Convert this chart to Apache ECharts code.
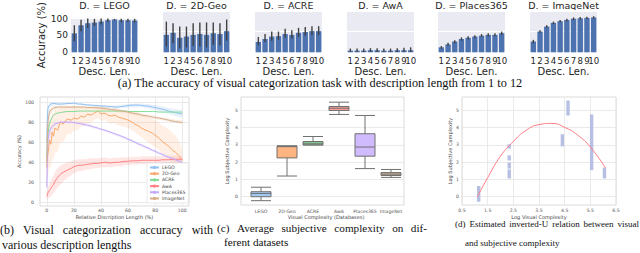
<!DOCTYPE html>
<html><head><meta charset="utf-8">
<script src="https://cdn.jsdelivr.net/npm/echarts@6/dist/echarts.min.js"></script>
<style>html,body{margin:0;padding:0;background:#fff}#c{width:640px;height:253px}</style>
</head><body><div id="c"></div>
<script>
// ---------- (a) bar panels ----------
const barCats = ['1','2','3','4','5','6','7','8','9','10'];
const panelTitles = ['D. = LEGO','D. = 2D-Geo','D. = ACRE','D. = AwA','D. = Places365','D. = ImageNet'];
const accLEGO = [56, 80, 86, 88, 91, 95, 97, 95, 95, 94];
const ciLEGO = [[33,80],[62,96],[72,100],[78,99],[82,100],[90,100],[95,99],[89,99],[90,99],[88,99]];
const acc2DGeo = [42, 47, 35, 38, 42, 44, 42, 46, 44, 51];
const ci2DGeo = [[14,74],[22,70],[10,62],[12,62],[15,70],[14,72],[12,72],[18,72],[17,70],[28,79]];
const accACRE = [25, 32, 38, 39, 44, 42, 47, 49, 51, 51];
const ciACRE = [[17,37],[25,44],[28,50],[30,50],[35,57],[33,53],[37,59],[40,61],[42,63],[42,63]];
const accAwA = [4, 4, 4, 5, 5, 4, 4, 5, 5, 5];
const ciAwA = [[1,9],[1,9],[1,9],[1,10],[1,10],[1,9],[1,9],[1,10],[1,11],[1,12]];
const accPlaces = [12, 19, 26, 32, 35, 38, 40, 42, 42, 46];
const ciPlaces = [[9,15],[16,23],[22,29],[28,36],[31,39],[34,41],[37,44],[38,46],[39,46],[42,50]];
const accImageNet = [26, 50, 62, 71, 75, 78, 81, 82, 83, 84];
const ciImageNet = [[22,30],[47,53],[59,65],[68,74],[72,78],[75,81],[78,84],[79,85],[80,86],[81,87]];
const barTicks = [0, 50, 100];

// ---------- (b) accuracy vs relative description length ----------
const datasetNames = ['LEGO','2D-Geo','ACRE','AwA','Places365','ImageNet'];
const relLen = [0,0.5,1,2,3,4,5,6,8,10,12,15,18,20,23,25,28,30,33,35,38,40,43,45,48,50,53,55,58,60,63,65,68,70,73,75,78,80,83,85,88,90,93,95,98,100];
const curveLEGO = [60,88,95,97,98,98.5,98.5,98.5,98,98,98,98.5,98.5,99,98,98,97.5,97,97,96.5,96.5,96,96,95.5,95.5,95,95,95.5,96,96.5,97,97,97,96.5,96,96,95,94.5,93.5,93,92,91,90,89.5,88.5,88];
const curve2DGeo = [35,45,50,62,58,70,66,74,72,80,78,83,82,84,83,86,85,88,87,89,91,88,89,87,86,87,85,84,83,82,80,78,76,74,72,71,69,67,64,61,58,56,52,50,46,42];
const curveACRE = [45,62,70,78,82,85,87,88,89,89.5,90,90.5,90.5,90.5,91,91,91,91,91,91,91,91,91,91,91,91,91,91,91,90.5,90.5,90.5,90.5,90.5,90.5,90.5,90.5,90.5,90,90,90,90,90,90,90,90];
const curveAwA = [6,8,10,12,14,16,18,21,25,28,30,32,34,35.5,37,37,37.5,38,38.5,39,39,39.5,40,39.5,39.5,40,40,40.5,41,41,41.5,41.5,41.5,42,42,42,42,42,42,42.5,42.5,42.5,43,43,43,43];
const curvePlaces = [15,50,63,71,74,76,77,78,79,80,80,80,80,79.5,79,78.5,77.5,77,76,75,74,73,72,71,69.5,68.5,67,66,64.5,63,61.5,60,58,57,55,54,52,51,49,48,46,45,43.5,42.5,41,40];
const curveImageNet = [40,70,82,90,92,93,94,94.5,95,95,95,95,95,95,95,95,95,94.5,94.5,94.5,94,94,93.5,93,92.5,92,91.5,91,90.5,90,89,88.5,88,87,86.5,86,85,84.5,84,83.5,82.5,82,81,80.5,80,79.5];
const lo2DGeo = [20,25,28,35,35,45,42,50,50,60,60,68,68,72,72,76,76,80,79,82,84,81,82,80,78,79,77,76,75,74,72,70,67,65,62,60,57,55,52,49,46,43,39,37,33,30];
const hi2DGeo = [50,65,72,85,82,90,88,92,92,94,94,95,95,95,94,95,94,95,95,95,96,95,95,94,93,94,93,92,92,91,90,89,88,87,86,85,83,82,79,77,75,73,69,67,60,54];
const loAwA = [2,3,4,5,6,8,9,11,15,18,21,24,27,29,31,31,32,33,33,34,34,35,35,35,35,36,36,36,37,37,37.5,37.5,38,38,38,38,38.5,38.5,38.5,39,39,39,39.5,39.5,40,40];
const hiAwA = [10,13,16,19,22,24,27,30,34,37,38,40,41,42,43,43,43,43.5,44,44,44,44.5,45,44,44,44.5,44.5,45,45,45,45.5,45.5,45.5,46,46,46,46,46,46,46,46,46,46.5,46.5,46.5,46.5];
const bandX = [0,2,5,10,20,30,40,50,60,70,80,90,100];
const loLEGO = [40,94,97,97,98,96,95,93.5,94.5,95,92,88,84];
const hiLEGO = [80,99,99.5,99,99.5,98,97,96.5,98,98.5,97,94,92];
const loImageNet = [25,86,92,93.5,94,93.5,92.5,90.5,88.5,85.5,83,80.5,78];
const hiImageNet = [55,93,96,96.5,96,95.5,95.5,93.5,91.5,88.5,86,83.5,81.5];
const loPlaces = [10,62,75,79,78.5,75.5,72,67,61.5,55.5,49.5,43.5,38.5];
const hiPlaces = [20,70,79,81,80.5,78.5,74,70,64.5,58.5,52.5,46.5,41.5];
const relTicks = [0,20,40,60,80,100];

// ---------- (c) subjective complexity box plots: [min, Q1, median, Q3, max] ----------
const boxStats = [[-0.23,0,0.19,0.29,0.55],[1.2,2.25,2.9,2.93,2.95],[3.0,3.0,3.1,3.2,3.49],[4.77,5.0,5.13,5.23,5.48],[1.63,2.35,2.88,3.65,4.71],[1.12,1.23,1.31,1.4,1.58]];
const logTicks = [0,1,2,3,4,5];

// ---------- (d) inverted-U ----------
const stripX = [1.15, 2.34, 2.34, 2.34, 2.34, 4.41, 4.63, 5.55, 6.05];
const stripLow = [-0.29, 2.79, 2.1, 1.63, 1.06, 2.92, 4.71, 1.54, 1.06];
const stripHigh = [0.62, 3.04, 2.4, 1.98, 1.58, 3.62, 5.58, 4.77, 1.69];
const fitX = [1.1, 1.5, 2.0, 2.5, 3.0, 3.5, 4.0, 4.5, 5.0, 5.5, 6.1];
const fitY = [0, 1.1, 2.35, 3.2, 3.85, 4.18, 4.25, 4.02, 3.58, 2.88, 1.65];

// ---------- captions ----------
const captionA = '(a) The accuracy of visual categorization task with description length from 1 to 12';
const captionB1 = ['(b)','Visual','categorization','accuracy','with'];
const captionB2 = 'various description lengths';
const captionC1 = ['(c)','Average','subjective','complexity','on','dif-'];
const captionC2 = 'ferent datasets';
const captionD1 = ['(d)','Estimated','inverted-U','relation','between','visual'];
const captionD2 = 'and subjective complexity';

// ================= build =================
const SANS = '"DejaVu Sans", sans-serif';
const SERIF = '"Liberation Serif", "Times New Roman", serif';
const lineColors = ['#92c1f2','#f9a86a','#7edc95','#ff8082','#c3a8fb','#d8ae88'];
const boxColors = ['#a1c9f4','#ffb482','#8de5a1','#ff9f9b','#d0bbff','#debb9b'];

const barAcc = [accLEGO, acc2DGeo, accACRE, accAwA, accPlaces, accImageNet];
const barCI = [ciLEGO, ci2DGeo, ciACRE, ciAwA, ciPlaces, ciImageNet];
const panelLeft = [71, 163, 255, 347, 438, 530];
const panelW = 67;

const grid = [], xAxis = [], yAxis = [], series = [], graphic = [];

function errRender(params, api) {
  const x = api.value(0);
  const p1 = api.coord([x, api.value(1)]);
  const p2 = api.coord([x, api.value(2)]);
  return {type: 'line', shape: {x1: p1[0], y1: p1[1], x2: p2[0], y2: p2[1]},
          style: {stroke: '#404040', lineWidth: 1.4}};
}

for (let i = 0; i < 6; i++) {
  grid.push({left: panelLeft[i], top: 10, width: panelW, height: 42.3, show: true,
             backgroundColor: '#eaeaf2', borderWidth: 0});
  xAxis.push({type: 'category', gridIndex: i, data: barCats,
    axisLine: {show: false}, axisTick: {show: false},
    axisLabel: {interval: 0, fontSize: 8.6, fontFamily: SANS, color: '#262626', margin: 4},
    name: 'Desc. Len.', nameLocation: 'middle', nameGap: 14.5,
    nameTextStyle: {fontSize: 10, fontFamily: SANS, color: '#262626'}});
  yAxis.push({type: 'value', gridIndex: i, min: 0, max: 102, interval: 50,
    axisLine: {show: false}, axisTick: {show: false},
    splitLine: {show: true, lineStyle: {color: '#ffffff', width: 1}},
    axisLabel: {show: i === 0, fontSize: 9, fontFamily: SANS, color: '#262626', margin: 3,
      customValues: barTicks},
    name: i === 0 ? 'Accuracy (%)' : '', nameLocation: 'middle', nameGap: 22,
    nameTextStyle: {fontSize: 10, fontFamily: SANS, color: '#262626'}});
  series.push({type: 'bar', xAxisIndex: i, yAxisIndex: i, data: barAcc[i], barWidth: '80%',
    itemStyle: {color: '#4c72b0'}, silent: true});
  series.push({type: 'custom', xAxisIndex: i, yAxisIndex: i, renderItem: errRender,
    encode: {x: 0, y: [1, 2]}, data: barCI[i].map((d, k) => [k, d[0], d[1]]), z: 5, silent: true});
  graphic.push({type: 'text', x: panelLeft[i] + panelW / 2, y: 5,
    style: {text: panelTitles[i], fontSize: 9.5, fontFamily: SANS, fill: '#262626',
            textAlign: 'center', align: 'center', textVerticalAlign: 'middle', verticalAlign: 'middle'}});
}

// (b)
const smallLabel = {fontSize: 4.6, fontFamily: SANS, color: '#555'};
const smallName = {fontSize: 5, fontFamily: SANS, color: '#444'};
const gridLine = {show: true, lineStyle: {color: '#e4e4e4', width: 0.8}};
grid.push({left: 40, top: 97, width: 149, height: 109, show: true, backgroundColor: '#fff',
           borderColor: '#d2d2d2', borderWidth: 0.8});
xAxis.push({type: 'value', gridIndex: 6, min: -5, max: 105,
  axisLine: {show: false}, axisTick: {show: false, customValues: relTicks},
  axisLabel: Object.assign({customValues: relTicks, margin: 2}, smallLabel),
  splitLine: gridLine, name: 'Relative Discription Length (%)', nameLocation: 'middle', nameGap: 8.5,
  nameTextStyle: smallName});
yAxis.push({type: 'value', gridIndex: 6, min: -3.5, max: 105,
  axisLine: {show: false}, axisTick: {show: false, customValues: relTicks},
  axisLabel: Object.assign({customValues: relTicks, margin: 6}, smallLabel),
  splitLine: gridLine, name: 'Accuracy (%)', nameLocation: 'middle', nameGap: 15.5,
  nameTextStyle: smallName});

function addBand(xs, lo, hi, color, opacity) {
  series.push({type: 'custom', xAxisIndex: 6, yAxisIndex: 6, silent: true, z: 1,
    encode: {x: 0, y: [1, 2]},
    data: xs.map((x, k) => [x, lo[k], hi[k]]),
    renderItem: function (params, api) {
      if (params.dataIndex !== 0) return {type: 'group', children: []};
      const pts = [];
      for (let k = 0; k < xs.length; k++) pts.push(api.coord([xs[k], hi[k]]));
      for (let k = xs.length - 1; k >= 0; k--) pts.push(api.coord([xs[k], lo[k]]));
      return {type: 'polygon', shape: {points: pts}, style: {fill: color, opacity: opacity}};
    }});
}
addBand(relLen, lo2DGeo, hi2DGeo, boxColors[1], 0.22);
addBand(relLen, loAwA, hiAwA, boxColors[3], 0.25);
addBand(bandX, loLEGO, hiLEGO, boxColors[0], 0.25);
addBand(bandX, loImageNet, hiImageNet, boxColors[5], 0.25);
addBand(bandX, loPlaces, hiPlaces, boxColors[4], 0.25);

const curves = [curveLEGO, curve2DGeo, curveACRE, curveAwA, curvePlaces, curveImageNet];
curves.forEach((c, k) => {
  series.push({type: 'line', name: datasetNames[k], xAxisIndex: 6, yAxisIndex: 6,
    data: relLen.map((x, j) => [x, c[j]]), symbol: 'none', color: lineColors[k],
    lineStyle: {width: 1, color: lineColors[k]}, silent: true, z: 3});
});

// (c) frame grid (7) + box grid (8)
grid.push({left: 241, top: 97, width: 163, height: 108, show: true, backgroundColor: '#fff',
           borderColor: '#d2d2d2', borderWidth: 0.8});
grid.push({left: 248, top: 97, width: 156, height: 108});
xAxis.push({type: 'value', gridIndex: 7, min: 0, max: 1, show: false});
yAxis.push({type: 'value', gridIndex: 7, min: -0.48, max: 5.78,
  axisLine: {show: false}, axisTick: {show: false, customValues: logTicks},
  axisLabel: Object.assign({customValues: logTicks, margin: 3}, smallLabel),
  splitLine: gridLine, name: 'Log Subjective Complexity', nameLocation: 'middle', nameGap: 11.5,
  nameTextStyle: smallName});
xAxis.push({type: 'category', gridIndex: 8, data: datasetNames,
  axisLine: {show: false}, axisTick: {show: false},
  axisLabel: Object.assign({interval: 0, margin: 4}, smallLabel),
  name: 'Visual Complexity (Databases)', nameLocation: 'middle', nameGap: 9.5, nameTextStyle: smallName});
yAxis.push({type: 'value', gridIndex: 8, min: -0.48, max: 5.78, show: false});
series.push({type: 'boxplot', xAxisIndex: 8, yAxisIndex: 8, boxWidth: [20, 20], silent: true, z: 3,
  data: boxStats.map((v, k) => ({value: v,
    itemStyle: {color: boxColors[k], borderColor: '#707070', borderWidth: 1}}))});

// (d)
grid.push({left: 462, top: 97, width: 154, height: 108, show: true, backgroundColor: '#fff',
           borderColor: '#d2d2d2', borderWidth: 0.8});
xAxis.push({type: 'value', gridIndex: 9, min: 0.5, max: 6.5, interval: 1,
  axisLine: {show: false}, axisTick: {show: false},
  axisLabel: Object.assign({margin: 3, formatter: v => v.toFixed(1)}, smallLabel),
  splitLine: gridLine, name: 'Log Visual Complexity', nameLocation: 'middle', nameGap: 9.5,
  nameTextStyle: smallName});
yAxis.push({type: 'value', gridIndex: 9, min: -0.48, max: 5.78,
  axisLine: {show: false}, axisTick: {show: false, customValues: logTicks},
  axisLabel: Object.assign({customValues: logTicks, margin: 3}, smallLabel),
  splitLine: gridLine, name: 'Log Subjective Complexity', nameLocation: 'middle', nameGap: 7.5,
  nameTextStyle: smallName});
series.push({type: 'custom', xAxisIndex: 9, yAxisIndex: 9, silent: true, z: 2,
  encode: {x: 0, y: [1, 2]},
  data: stripX.map((x, k) => [x, stripLow[k], stripHigh[k]]),
  renderItem: function (params, api) {
    const top = api.coord([api.value(0), api.value(2)]);
    const bot = api.coord([api.value(0), api.value(1)]);
    return {type: 'rect', shape: {x: top[0] - 1.7, y: top[1], width: 3.4, height: bot[1] - top[1]},
            style: {fill: '#b7bfe3'}};
  }});
series.push({type: 'line', xAxisIndex: 9, yAxisIndex: 9, data: fitX.map((x, k) => [x, fitY[k]]),
  smooth: 0.5, symbol: 'none', lineStyle: {color: '#ff7b82', width: 1}, silent: true, z: 3});

// captions
const mctx = document.createElement('canvas').getContext('2d');
function capText(txt, x, y, size) {
  graphic.push({type: 'text', x: x, y: y,
    style: {text: txt, fontSize: size, fontFamily: SERIF, fill: '#111',
            textVerticalAlign: 'middle', verticalAlign: 'middle'}});
}
function justify(words, x0, x1, y, size) {
  mctx.font = size + 'px ' + SERIF;
  const ws = words.map(w => mctx.measureText(w).width);
  const total = ws.reduce((a, b) => a + b, 0);
  const gap = (x1 - x0 - total) / (words.length - 1);
  let x = x0;
  words.forEach((w, k) => { capText(w, x, y, size); x += ws[k] + gap; });
}
graphic.push({type: 'text', x: 320, y: 83, style: {text: captionA, fontSize: 12.3, fontFamily: SERIF, fill: '#111',
  textAlign: 'center', align: 'center', textVerticalAlign: 'middle', verticalAlign: 'middle'}});
justify(captionB1, 0, 213, 230, 12);
capText(captionB2, 2, 245, 12);
justify(captionC1, 217, 427, 228, 11.2);
capText(captionC2, 224, 242, 11.2);
justify(captionD1, 455, 639, 224, 9);
capText(captionD2, 465, 243, 9);

const chart = echarts.init(document.getElementById('c'), null, {renderer: 'svg'});
chart.setOption({
  animation: false,
  backgroundColor: '#fff',
  grid: grid, xAxis: xAxis, yAxis: yAxis, series: series, graphic: graphic,
  legend: {data: datasetNames, orient: 'vertical', left: 147, top: 163, itemWidth: 9, itemHeight: 4,
    itemGap: 1.2, selectedMode: false, padding: [2, 3, 2, 2], backgroundColor: '#fff',
    borderColor: '#dcdcdc', borderWidth: 0.6, borderRadius: 1,
    textStyle: {fontSize: 4.6, fontFamily: SANS, color: '#444', padding: [0, 0, 0, -2]}}
});
</script></body></html>
